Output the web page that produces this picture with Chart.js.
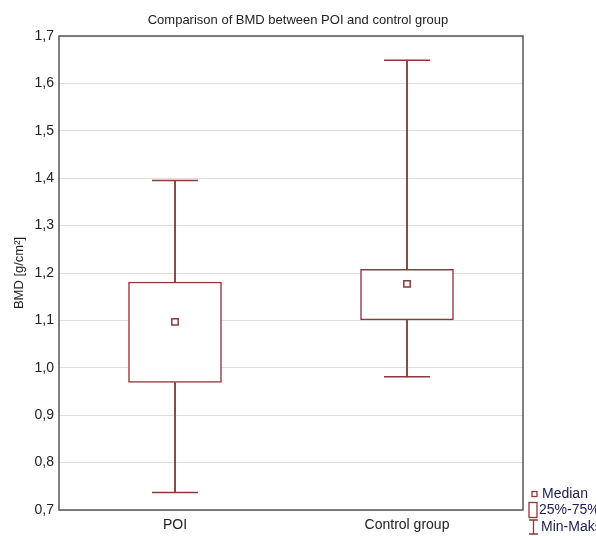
<!DOCTYPE html>
<html>
<head>
<meta charset="utf-8">
<title>Comparison of BMD between POI and control group</title>
<script src="https://cdn.jsdelivr.net/npm/chart.js@4.4.1/dist/chart.umd.min.js"></script>
<style>
	html, body { margin: 0; padding: 0; background: #fff; }
	#wrap { width: 596px; height: 536px; position: relative; }
</style>
</head>
<body>
<div id="wrap"><canvas id="bmdChart"></canvas></div>
<script>
	'use strict';

	// Data
	const groups = ['POI', 'Control group'];
	const minValues = [0.737, 0.981];
	const q1Values = [0.969, 1.101];
	const medianValues = [1.097, 1.177];
	const q3Values = [1.181, 1.208];
	const maxValues = [1.395, 1.649];
	const legendLabels = ['Median', '25%-75%', 'Min-Maks'];
	const yTickMin = 0.7;
	const yTickMax = 1.7;
	const yTickStep = 0.1;

	const boxColor = '#8b3a3a';
	const textColor = '#222';
	const fontFamily = '"Liberation Sans Narrow", "Liberation Sans", Arial, sans-serif';

	// Draws the dark frame round the plot and the legend at bottom right
	const framePlugin = {
		id: 'frameAndLegend',
		afterDraw(chart) {
			const { ctx, chartArea } = chart;
			ctx.save();
			ctx.strokeStyle = '#555';
			ctx.lineWidth = 1.5;
			ctx.strokeRect(chartArea.left, chartArea.top,
				chartArea.right - chartArea.left, chartArea.bottom - chartArea.top);

			// legend
			const lx = chartArea.right + 6;
			const rows = [494, 510, 527];
			ctx.strokeStyle = boxColor;
			ctx.lineWidth = 1.3;
			// median square
			ctx.strokeRect(lx + 3, rows[0] - 2.5, 5, 5);
			// box
			ctx.strokeRect(lx, rows[1] - 7.5, 8, 15);
			// whisker
			ctx.beginPath();
			ctx.moveTo(lx, rows[2] - 7); ctx.lineTo(lx + 9, rows[2] - 7);
			ctx.moveTo(lx + 4.5, rows[2] - 7); ctx.lineTo(lx + 4.5, rows[2] + 7);
			ctx.moveTo(lx, rows[2] + 7); ctx.lineTo(lx + 9, rows[2] + 7);
			ctx.stroke();

			ctx.fillStyle = '#1c1c4e';
			ctx.font = '14px ' + fontFamily;
			ctx.textBaseline = 'middle';
			ctx.textAlign = 'left';
			ctx.fillText(legendLabels[0], lx + 13, rows[0]);
			ctx.fillText(legendLabels[1], lx + 10, rows[1]);
			ctx.fillText(legendLabels[2], lx + 12, rows[2]);
			ctx.restore();
		}
	};

	const q1q3 = groups.map((g, i) => [q1Values[i], q3Values[i]]);
	const upper = groups.map((g, i) => [q3Values[i], maxValues[i]]);
	const lower = groups.map((g, i) => [minValues[i], q1Values[i]]);

	new Chart(document.getElementById('bmdChart'), {
		type: 'bar',
		data: {
			labels: groups,
			datasets: [{
				label: '25%-75%',
				data: q1q3,
				backgroundColor: '#fff',
				borderColor: boxColor,
				borderWidth: 1.5,
				borderSkipped: false,
				barThickness: 93,
				grouped: false,
				order: 3
			}, {
				label: 'upper whisker',
				data: upper,
				backgroundColor: boxColor,
				borderWidth: 0,
				barThickness: 1.2,
				grouped: false,
				order: 2
			}, {
				label: 'lower whisker',
				data: lower,
				backgroundColor: boxColor,
				borderWidth: 0,
				barThickness: 1.2,
				grouped: false,
				order: 2
			}, {
				type: 'line',
				label: 'Max',
				data: maxValues,
				showLine: false,
				pointStyle: 'line',
				pointRadius: 23,
				pointBorderWidth: 1.5,
				borderColor: boxColor,
				order: 1
			}, {
				type: 'line',
				label: 'Min',
				data: minValues,
				showLine: false,
				pointStyle: 'line',
				pointRadius: 23,
				pointBorderWidth: 1.5,
				borderColor: boxColor,
				order: 1
			}, {
				type: 'line',
				label: 'Median',
				data: medianValues,
				showLine: false,
				pointStyle: 'rect',
				pointRadius: 4.5,
				pointBorderWidth: 1.5,
				pointBackgroundColor: '#fff',
				borderColor: boxColor,
				order: 0
			}]
		},
		options: {
			responsive: true,
			maintainAspectRatio: false,
			animation: false,
			events: [],
			layout: { padding: 0 },
			plugins: {
				legend: { display: false },
				tooltip: { enabled: false },
				title: {
					display: true,
					text: 'Comparison of BMD between POI and control group',
					color: textColor,
					font: { family: fontFamily, size: 13, weight: 'normal' },
					padding: { top: 13, bottom: 7.4 }
				}
			},
			scales: {
				x: {
					offset: true,
					grid: { display: false, drawTicks: false },
					border: { display: false },
					ticks: {
						color: textColor,
						padding: 7,
						font: { family: fontFamily, size: 14 }
					},
					afterFit(scale) { scale.height = 26; }
				},
				y: {
					min: yTickMin,
					max: yTickMax,
					grid: { color: '#dedede', lineWidth: 1, drawTicks: false },
					border: { display: false },
					ticks: {
						stepSize: yTickStep,
						color: textColor,
						padding: 5,
						font: { family: fontFamily, size: 14 },
						callback: (v) => v.toFixed(1).replace('.', ',')
					},
					title: {
						display: true,
						text: 'BMD [g/cm²]',
						color: textColor,
						font: { family: fontFamily, size: 13 },
						padding: { top: 12, bottom: 0 }
					},
					afterFit(scale) { scale.width = 59; }
				},
				// empty right-hand strip that leaves room for the legend
				legendSpace: {
					position: 'right',
					min: yTickMin,
					max: yTickMax,
					grid: { display: false, drawTicks: false },
					border: { display: false },
					ticks: { display: false },
					afterFit(scale) { scale.width = 73; }
				}
			}
		},
		plugins: [framePlugin]
	});
</script>
</body>
</html>
